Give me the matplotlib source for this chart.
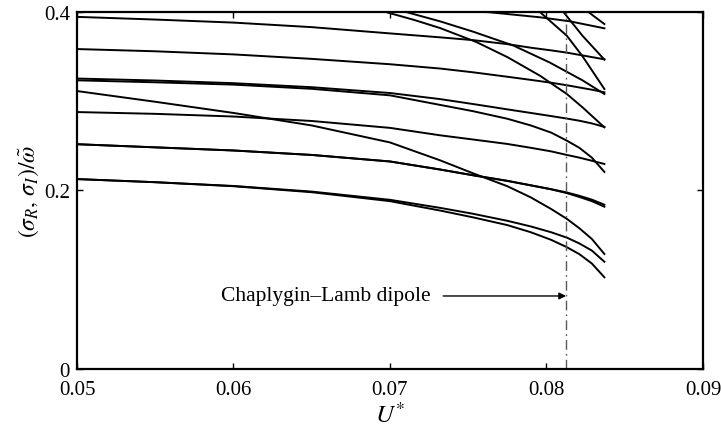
import matplotlib
matplotlib.use("Agg")
import matplotlib.pyplot as plt

# sampled U* values shared by the branches that start at the left edge
u_grid = [0.050, 0.055, 0.060, 0.065, 0.070, 0.0732, 0.0753, 0.0775,
          0.0790, 0.0803, 0.0813, 0.0821, 0.0829, 0.0837]

f1 = [0.394, 0.391, 0.3876, 0.3825, 0.3755, 0.3711, 0.368, 0.3635, 0.3595, 0.3565, 0.354, 0.3515, 0.349, 0.3465]
f2 = [0.358, 0.3555, 0.352, 0.347, 0.341, 0.3362, 0.332, 0.327, 0.3235, 0.3203, 0.3175, 0.315, 0.3125, 0.3096]
f3a = [0.325, 0.3228, 0.3198, 0.3153, 0.3088, 0.302, 0.2965, 0.2905, 0.2865, 0.283, 0.2802, 0.2778, 0.2748, 0.2709]
f3b = [0.323, 0.3208, 0.3182, 0.3135, 0.3062, 0.2955, 0.2885, 0.280, 0.2725, 0.2645, 0.2555, 0.2475, 0.2365, 0.2205]
l5 = [0.311, 0.299, 0.2865, 0.2725, 0.2535, 0.2335, 0.219, 0.2045, 0.192, 0.179, 0.168, 0.1575, 0.1455, 0.1287]
f4 = [0.2875, 0.2855, 0.2825, 0.2775, 0.2698, 0.2615, 0.2568, 0.2518, 0.2475, 0.2435, 0.2395, 0.2365, 0.233, 0.2294]
f5a = [0.2515, 0.248, 0.2445, 0.2395, 0.2322, 0.2232, 0.2168, 0.2105, 0.2055, 0.2012, 0.1975, 0.1938, 0.1895, 0.1838]
f5b = [0.2515, 0.248, 0.2445, 0.2395, 0.2322, 0.2232, 0.2168, 0.2105, 0.2055, 0.2010, 0.1968, 0.1925, 0.1878, 0.1816]
f6a = [0.2125, 0.209, 0.2048, 0.1985, 0.1893, 0.1803, 0.1737, 0.1658, 0.1595, 0.1530, 0.1470, 0.1405, 0.1325, 0.1200]
f6b = [0.2125, 0.209, 0.2045, 0.1978, 0.1878, 0.1773, 0.1697, 0.1610, 0.1530, 0.1445, 0.1363, 0.1285, 0.1180, 0.1026]

# branches that come down through the top of the window
f0_u = [0.0725, 0.0764, 0.0796, 0.0815, 0.0837]
f0 = [0.404, 0.3991, 0.3935, 0.389, 0.3812]
m1_u = [0.0698, 0.0715, 0.0732, 0.0755, 0.0775, 0.0796, 0.0813, 0.0823, 0.0837]
m1 = [0.3991, 0.3908, 0.3815, 0.366, 0.349, 0.328, 0.3077, 0.2928, 0.2704]
m2_u = [0.0711, 0.0732, 0.0753, 0.0779, 0.0802, 0.0823, 0.0837]
m2 = [0.3991, 0.3890, 0.3775, 0.3618, 0.3430, 0.3230, 0.3077]
sa_u = [0.0796, 0.0813, 0.0823, 0.0837]
sa = [0.3991, 0.3729, 0.350, 0.3133]
sb_u = [0.0811, 0.0823, 0.0837]
sb = [0.3991, 0.3729, 0.3462]
sc_u = [0.0827, 0.0837]
sc = [0.3991, 0.386]

u_dipole = 0.08125

plt.rcParams["font.family"] = "Liberation Serif"
plt.rcParams["mathtext.fontset"] = "stix"
plt.rcParams["font.size"] = 15

fig = plt.figure(figsize=(7.21, 4.27), dpi=100)
ax = fig.add_axes([0.1068, 0.1335, 0.8682, 0.8372])

for s in [f1, f2, f3a, f3b, l5, f4, f5a, f5b, f6a, f6b]:
    ax.plot(u_grid, s, color="k", lw=1.4)
for u, s in [(f0_u, f0), (m1_u, m1), (m2_u, m2), (sa_u, sa), (sb_u, sb), (sc_u, sc)]:
    ax.plot(u, s, color="k", lw=1.4)

ax.axvline(u_dipole, color="0.35", lw=1.0, dashes=[7, 3, 1.2, 3])
ax.annotate("", xy=(u_dipole, 0.0817), xytext=(0.0734, 0.0817),
            arrowprops=dict(arrowstyle="-|>", color="k", lw=1.0,
                            mutation_scale=10, shrinkA=0, shrinkB=0))
ax.text(0.0592, 0.0817, "Chaplygin\u2013Lamb dipole", va="center", ha="left", fontsize=15.5)

ax.set_xlim(0.05, 0.09)
ax.set_ylim(0, 0.4)
ax.set_xticks([0.05, 0.06, 0.07, 0.08, 0.09])
ax.set_xticklabels(["0.05", "0.06", "0.07", "0.08", "0.09"])
ax.set_yticks([0, 0.2, 0.4])
ax.set_yticklabels(["0", "0.2", "0.4"])
ax.tick_params(direction="in", length=4, width=1, top=True, right=True)
ax.tick_params(axis="x", pad=8)
ax.tick_params(axis="y", pad=5)
for sp in ax.spines.values():
    sp.set_linewidth(1.6)

ax.set_xlabel("$U^{*}$", fontsize=18, labelpad=2)
ax.set_ylabel(r"$(\sigma_R,\, \sigma_I)/\tilde{\omega}$", fontsize=17, labelpad=2)

plt.savefig("out.png", dpi=100)
plt.close()
